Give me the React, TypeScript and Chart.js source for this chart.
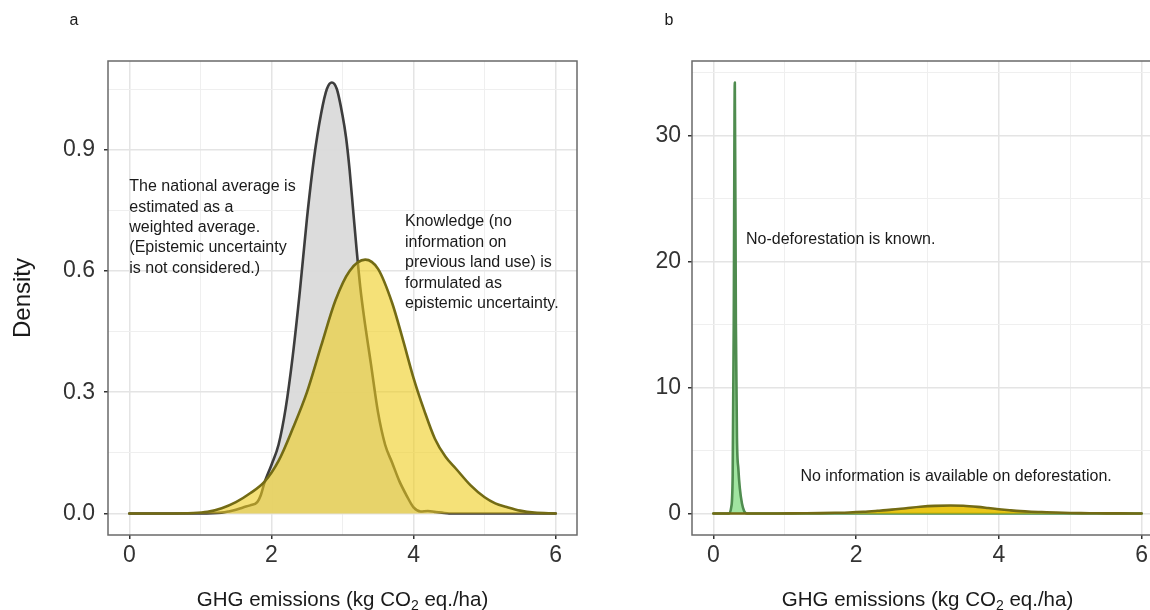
import React, { useEffect, useRef } from "react";
import { Chart, registerables } from "chart.js";

Chart.register(...registerables);

const FONT = "'Liberation Sans', Arial, Helvetica, sans-serif";

// ---------- data ----------
const emissionTicks = [0, 1, 2, 3, 4, 5, 6];
const emissionTickLabels = ["0", "", "2", "", "4", "", "6"];

const densityTicksA = [0, 0.15, 0.3, 0.45, 0.6, 0.75, 0.9, 1.05];
const densityTickLabelsA = ["0.0", "", "0.3", "", "0.6", "", "0.9", ""];

const densityTicksB = [0, 5, 10, 15, 20, 25, 30, 35];
const densityTickLabelsB = ["0", "", "10", "", "20", "", "30", ""];

// national average (no epistemic uncertainty)
const nationalX = [0, 1.0, 1.3, 1.4, 1.5, 1.6, 1.7, 1.8, 1.85, 1.9, 2.0, 2.1, 2.2, 2.3, 2.4, 2.5, 2.6, 2.7, 2.78, 2.85, 2.92, 3.0, 3.05, 3.1, 3.15, 3.2, 3.25, 3.3, 3.4, 3.5, 3.6, 3.7, 3.8, 3.9, 4.0, 4.1, 4.2, 4.3, 4.4, 4.5, 6.0];
const nationalY = [0, 0, 0.002, 0.005, 0.009, 0.015, 0.02, 0.028, 0.045, 0.075, 0.12, 0.17, 0.26, 0.39, 0.55, 0.73, 0.88, 0.99, 1.05, 1.066, 1.05, 0.985, 0.93, 0.85, 0.75, 0.65, 0.56, 0.49, 0.37, 0.25, 0.17, 0.125, 0.08, 0.045, 0.015, 0.005, 0.006, 0.004, 0.002, 0, 0];

// epistemic uncertainty (no information on previous land use)
const epistemicX = [0, 0.5, 0.9, 1.1, 1.3, 1.5, 1.7, 1.9, 2.1, 2.3, 2.5, 2.7, 2.9, 3.1, 3.32, 3.5, 3.7, 3.85, 4.0, 4.15, 4.3, 4.45, 4.6, 4.8, 5.0, 5.15, 5.31, 5.5, 5.7, 6.0];
const epistemicY = [0, 0, 0.001, 0.004, 0.013, 0.028, 0.05, 0.078, 0.13, 0.21, 0.3, 0.415, 0.527, 0.6, 0.628, 0.605, 0.52, 0.43, 0.335, 0.255, 0.185, 0.14, 0.11, 0.07, 0.04, 0.025, 0.016, 0.007, 0.002, 0];

// no-deforestation known
const knownX = [0, 0.22, 0.25, 0.27, 0.285, 0.3, 0.315, 0.33, 0.35, 0.37, 0.4, 0.43, 0.47, 6.0];
const knownY = [0, 0, 0.5, 3, 15, 34.2, 15, 6, 3.5, 2, 0.8, 0.2, 0, 0];

const annotationA1 = [
  "The national average is",
  "estimated as a",
  "weighted average.",
  "(Epistemic uncertainty",
  "is not considered.)",
];
const annotationA2 = [
  "Knowledge (no",
  "information on",
  "previous land use) is",
  "formulated as",
  "epistemic uncertainty.",
];
const annotationB1 = "No-deforestation is known.";
const annotationB2 = "No information is available on deforestation.";

const xTitleMain = "GHG emissions (kg CO";
const xTitleSub = "2";
const xTitleRest = " eq./ha)";
const yTitle = "Density";

// ---------- helpers ----------
const pts = (xs: number[], ys: number[]) => xs.map((x, i) => ({ x, y: ys[i] }));

function scaleOpts(
  axis: "x" | "y",
  values: number[],
  labels: string[],
  min: number,
  max: number,
  fixed: number,
  padding: number
) {
  return {
    type: "linear",
    min,
    max,
    afterBuildTicks: (s: any) => {
      s.ticks = values.map((v) => ({ value: v }));
    },
    afterFit: (s: any) => {
      if (axis === "x") s.height = fixed;
      else s.width = fixed;
    },
    ticks: {
      autoSkip: false,
      maxRotation: 0,
      minRotation: 0,
      padding,
      color: "#333333",
      font: { family: FONT, size: 23 },
      callback: (_v: any, i: number) => labels[i],
    },
    grid: {
      color: (c: any) => (labels[c.index] ? "#e4e4e4" : "#efefef"),
      lineWidth: (c: any) => (labels[c.index] ? 1.5 : 1),
      tickColor: (c: any) => (labels[c.index] ? "#333333" : "rgba(0,0,0,0)"),
      tickLength: 4,
      tickWidth: 1.5,
      drawTicks: true,
    },
    border: { display: false },
  };
}

const borderPlugin = {
  id: "panelBorder",
  afterDatasetsDraw(chart: any) {
    const { ctx, chartArea: a } = chart;
    ctx.save();
    ctx.strokeStyle = "#6a6a6a";
    ctx.lineWidth = 1.5;
    ctx.strokeRect(a.left, a.top, a.right - a.left, a.bottom - a.top);
    ctx.restore();
  },
};

function drawXTitle(ctx: CanvasRenderingContext2D, cx: number, baseline: number) {
  ctx.save();
  ctx.fillStyle = "#1a1a1a";
  ctx.textBaseline = "alphabetic";
  ctx.textAlign = "left";
  ctx.font = `20.5px ${FONT}`;
  const w1 = ctx.measureText(xTitleMain).width;
  const w3 = ctx.measureText(xTitleRest).width;
  ctx.font = `14px ${FONT}`;
  const w2 = ctx.measureText(xTitleSub).width;
  const x = cx - (w1 + w2 + w3) / 2;
  ctx.font = `20.5px ${FONT}`;
  ctx.fillText(xTitleMain, x, baseline);
  ctx.font = `14px ${FONT}`;
  ctx.fillText(xTitleSub, x + w1, baseline + 4);
  ctx.font = `20.5px ${FONT}`;
  ctx.fillText(xTitleRest, x + w1 + w2, baseline);
  ctx.restore();
}

function drawLines(
  ctx: CanvasRenderingContext2D,
  lines: string[],
  x: number,
  y0: number,
  step: number
) {
  ctx.save();
  ctx.fillStyle = "#1a1a1a";
  ctx.font = `16px ${FONT}`;
  ctx.textAlign = "left";
  ctx.textBaseline = "middle";
  lines.forEach((l, i) => ctx.fillText(l, x, y0 + i * step));
  ctx.restore();
}

const textPluginA = {
  id: "textA",
  afterDraw(chart: any) {
    const { ctx, scales, chartArea } = chart;
    const xs = scales.x;
    const ys = scales.y;
    drawLines(ctx, annotationA1, xs.getPixelForValue(0), ys.getPixelForValue(0.808), 20.4);
    drawLines(ctx, annotationA2, xs.getPixelForValue(3.88), ys.getPixelForValue(0.722), 20.5);
    ctx.save();
    ctx.fillStyle = "#1a1a1a";
    ctx.font = `16px ${FONT}`;
    ctx.textAlign = "center";
    ctx.textBaseline = "middle";
    ctx.fillText("a", 74, 21);
    ctx.translate(23, (chartArea.top + chartArea.bottom) / 2);
    ctx.rotate(-Math.PI / 2);
    ctx.font = `24px ${FONT}`;
    ctx.fillText(yTitle, 0, 0);
    ctx.restore();
    drawXTitle(ctx, (chartArea.left + chartArea.right) / 2, 606);
  },
};

const textPluginB = {
  id: "textB",
  afterDraw(chart: any) {
    const { ctx, scales, chartArea } = chart;
    const xs = scales.x;
    const ys = scales.y;
    drawLines(ctx, [annotationB1], xs.getPixelForValue(0.457), ys.getPixelForValue(21.7), 20);
    drawLines(ctx, [annotationB2], xs.getPixelForValue(1.22), ys.getPixelForValue(2.91), 20);
    ctx.save();
    ctx.fillStyle = "#1a1a1a";
    ctx.font = `16px ${FONT}`;
    ctx.textAlign = "center";
    ctx.textBaseline = "middle";
    ctx.fillText("b", 79, 21);
    ctx.restore();
    drawXTitle(ctx, (chartArea.left + chartArea.right) / 2, 606);
  },
};

const lineDs = (data: any[], border: string, fill: string) => ({
  data,
  borderColor: border,
  backgroundColor: fill,
  borderWidth: 2.6,
  fill: "origin",
  pointRadius: 0,
  pointHoverRadius: 0,
  cubicInterpolationMode: "monotone",
  borderJoinStyle: "round",
  borderCapStyle: "round",
});

export default function App() {
  const refA = useRef<HTMLCanvasElement>(null);
  const refB = useRef<HTMLCanvasElement>(null);

  useEffect(() => {
    const common = {
      responsive: false,
      animation: false,
      events: [],
      plugins: { legend: { display: false }, tooltip: { enabled: false } },
    };
    const chartA = new Chart(refA.current!, {
      type: "line",
      data: {
        datasets: [
          { ...lineDs(pts(epistemicX, epistemicY), "#736b14", "rgba(238,205,30,0.6)"), order: 0 },
          { ...lineDs(pts(nationalX, nationalY), "#3d3d3d", "rgba(218,218,218,0.95)"), order: 1 },
        ],
      },
      options: {
        ...common,
        layout: { padding: { left: 0, top: 61, right: 13, bottom: 0 } },
        scales: {
          x: scaleOpts("x", emissionTicks, emissionTickLabels, -0.3, 6.3, 75, 3),
          y: scaleOpts("y", densityTicksA, densityTickLabelsA, -0.0533, 1.1193, 108, 9),
        },
      } as any,
      plugins: [borderPlugin, textPluginA],
    } as any);

    const chartB = new Chart(refB.current!, {
      type: "line",
      data: {
        datasets: [
          { ...lineDs(pts(epistemicX, epistemicY), "#736b14", "rgba(232,192,0,0.9)"), order: 0 },
          { ...lineDs(pts(knownX, knownY), "#4f8c4f", "rgba(150,225,150,0.9)"), order: 1 },
        ],
      },
      options: {
        ...common,
        layout: { padding: { left: 0, top: 61, right: 7, bottom: 0 } },
        scales: {
          x: scaleOpts("x", emissionTicks, emissionTickLabels, -0.3, 6.3, 75, 3),
          y: scaleOpts("y", densityTicksB, densityTickLabelsB, -1.71, 35.9, 102, 7),
        },
      } as any,
      plugins: [borderPlugin, textPluginB],
    } as any);

    return () => {
      chartA.destroy();
      chartB.destroy();
    };
  }, []);

  return (
    <div
      style={{
        position: "absolute",
        left: 0,
        top: 0,
        width: 1150,
        height: 610,
        overflow: "hidden",
        background: "#ffffff",
      }}
    >
      <canvas ref={refA} width={590} height={610} style={{ position: "absolute", left: 0, top: 0 }} />
      <canvas ref={refB} width={580} height={610} style={{ position: "absolute", left: 590, top: 0 }} />
    </div>
  );
}
